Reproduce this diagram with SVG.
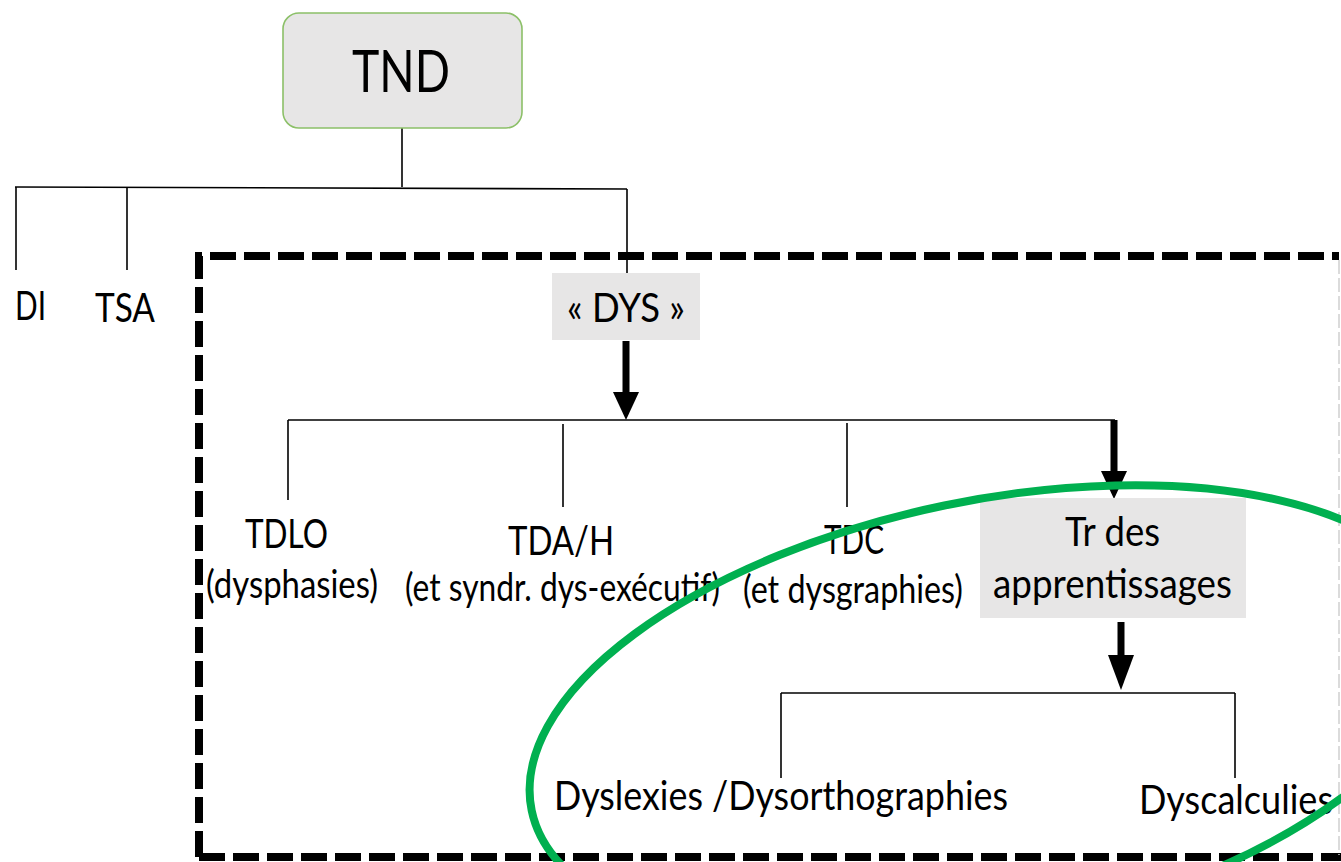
<svg xmlns="http://www.w3.org/2000/svg" width="1341" height="862" viewBox="0 0 1341 862">
<style>
text{font-family:Lato,"Liberation Sans",sans-serif;fill:#000;}
.t{font-size:40px;}
.s{font-size:38px;}
.thin{stroke:#000;stroke-width:1.6;fill:none;}
.thick{stroke:#000;stroke-width:7;fill:none;}
.box{fill:#e7e6e6;}
</style>
<defs>
<marker id="ah" viewBox="0 0 10 10" refX="10" refY="5" markerUnits="userSpaceOnUse" markerWidth="26" markerHeight="28" orient="auto">
<path d="M0,0 L10,5 L0,10 Z" fill="#000"/>
</marker>
</defs>
<rect width="1341" height="862" fill="#fff"/>
<g id="dashed-frame">
<path d="M199,857 L199,256 L1339,256 M199,857 L1341,857" fill="none" stroke="#000" stroke-width="8" stroke-dasharray="26 8"/>
<path d="M1339,260 L1339,855" fill="none" stroke="#d0d0d0" stroke-width="1.5" stroke-dasharray="14 4"/>
</g>
<g id="connectors">
<path class="thin" d="M402,128 L402,187"/>
<path class="thin" d="M15,187 L627,189"/>
<path class="thin" d="M16,187 L16,270"/>
<path class="thin" d="M127,188 L127,270"/>
<path class="thin" d="M627,189 L627,274"/>
<path class="thick" d="M626,341 L626,394"/>
<path d="M613,392 L639,392 L626,420 Z" fill="#000"/>
<path class="thin" d="M288,420 L1115,420"/>
<path class="thin" d="M288,420 L288,500"/>
<path class="thin" d="M563,424 L563,507"/>
<path class="thin" d="M847,423 L847,507"/>
<path class="thick" d="M1114,420 L1114,474"/>
<path d="M1101,471 L1127,471 L1114,499 Z" fill="#000"/>
<path class="thick" d="M1121,622 L1121,658"/>
<path d="M1108,655 L1134,655 L1121,690 Z" fill="#000"/>
<path class="thin" d="M781,693 L1235,693"/>
<path class="thin" d="M781,693 L781,778"/>
<path class="thin" d="M1235,693 L1235,778"/>
</g>
<g id="node-tnd">
<rect x="283" y="13" width="239" height="115" rx="16" fill="#e7e6e6" stroke="#8cc068" stroke-width="1.6"/>
<text x="352" y="92" font-size="58" textLength="98" lengthAdjust="spacingAndGlyphs">TND</text>
</g>
<g id="node-di">
<text class="t" x="15" y="320" textLength="31" lengthAdjust="spacingAndGlyphs">DI</text>
</g>
<g id="node-tsa">
<text class="t" x="95" y="322" textLength="60" lengthAdjust="spacingAndGlyphs">TSA</text>
</g>
<g id="node-dys">
<rect class="box" x="552" y="273" width="148" height="67"/>
<text class="t" x="567" y="322" textLength="118" lengthAdjust="spacingAndGlyphs">« DYS »</text>
</g>
<g id="node-tdlo">
<text class="t" x="245" y="548" textLength="83" lengthAdjust="spacingAndGlyphs">TDLO</text>
<text class="s" x="206" y="598" textLength="172" lengthAdjust="spacingAndGlyphs">(dysphasies)</text>
</g>
<g id="node-tdah">
<text class="t" x="508" y="555" textLength="106" lengthAdjust="spacingAndGlyphs">TDA/H</text>
<text class="s" x="405" y="601" textLength="315" lengthAdjust="spacingAndGlyphs">(et syndr. dys-exécutif)</text>
</g>
<g id="node-tdc">
<text class="t" x="824" y="554" textLength="60" lengthAdjust="spacingAndGlyphs">TDC</text>
<text class="s" x="743" y="603" textLength="220" lengthAdjust="spacingAndGlyphs">(et dysgraphies)</text>
</g>
<g id="node-tr">
<rect class="box" x="980" y="498" width="266" height="120"/>
<text class="t" x="1065" y="546" textLength="95" lengthAdjust="spacingAndGlyphs">Tr des</text>
<text class="t" x="993" y="598" textLength="239" lengthAdjust="spacingAndGlyphs">apprentissages</text>
</g>
<g id="node-dyslexies">
<text class="t" x="554" y="810" textLength="454" lengthAdjust="spacingAndGlyphs">Dyslexies /Dysorthographies</text>
</g>
<g id="node-dyscalculies">
<text class="t" x="1139" y="814" textLength="194" lengthAdjust="spacingAndGlyphs">Dyscalculies</text>
</g>
<g id="highlight">
<ellipse cx="988" cy="716" rx="466" ry="215" transform="rotate(-11.7 988 716)" fill="none" stroke="#00b050" stroke-width="8"/>
</g>
</svg>
